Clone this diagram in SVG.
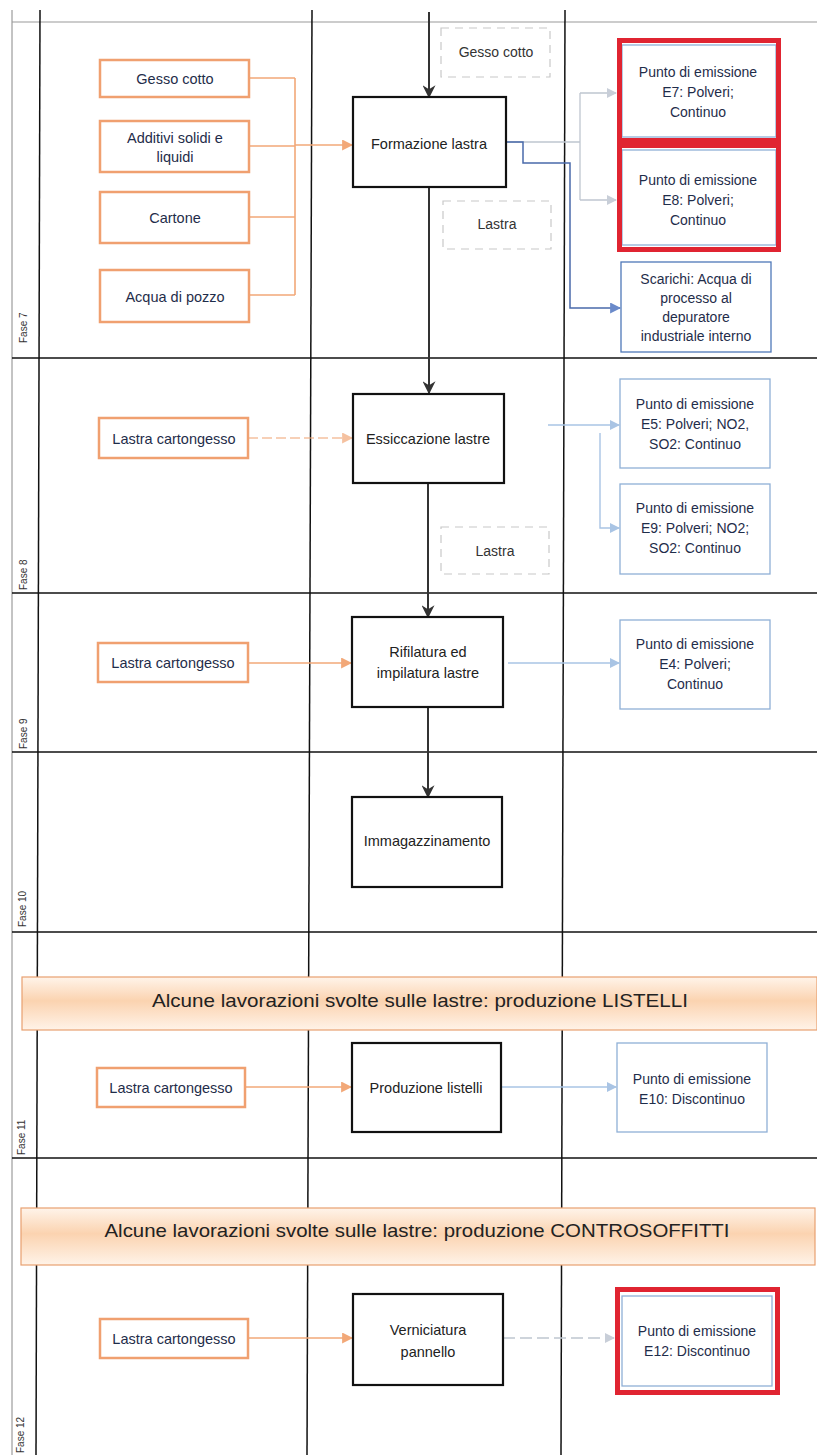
<svg xmlns="http://www.w3.org/2000/svg" width="817" height="1455" viewBox="0 0 817 1455">
<defs>
<style>
text{font-family:"Liberation Sans",Arial,sans-serif;}
.in rect{fill:#fff;stroke:#F0A070;stroke-width:2.5;}
.in text{font-size:14.5px;fill:#1F2D4A;text-anchor:middle;}
.pr rect{fill:#fff;stroke:#111;stroke-width:2.2;}
.pr text{font-size:14.5px;fill:#222;text-anchor:middle;}
.em rect.b{fill:#fff;stroke:#8FB0D6;stroke-width:1.3;}
.em rect.r{fill:none;stroke:#E02431;stroke-width:5;}
.em text{font-size:14px;fill:#1F2D4A;text-anchor:middle;}
.dash rect{fill:#fff;stroke:#C8C8C8;stroke-width:1.2;stroke-dasharray:8 6;}
.dash text{font-size:14px;fill:#333;text-anchor:middle;}
.lane{stroke:#111;stroke-width:1.5;fill:none;}
.fase{font-size:10px;fill:#333;}
.ban rect{fill:url(#bg);stroke:#E8A070;stroke-width:1.2;}
.ban text{font-size:19px;fill:#222;text-anchor:middle;}
.c-or{stroke:#F2A878;stroke-width:1.6;fill:none;}
.c-bl{stroke:#A9C4E4;stroke-width:1.4;fill:none;}
.c-bk{stroke:#333;stroke-width:2;fill:none;}
.c-db{stroke:#4A6AAA;stroke-width:1.5;fill:none;}
.c-gr{stroke:#BFC6D0;stroke-width:1.3;fill:none;}
</style>
<linearGradient id="bg" x1="0" y1="0" x2="0" y2="1">
<stop offset="0" stop-color="#FFF4EA"/>
<stop offset="0.45" stop-color="#FBD3B0"/>
<stop offset="1" stop-color="#FFF3E8"/>
</linearGradient>
<marker id="abk" viewBox="0 0 10 10" refX="9" refY="5" markerWidth="13" markerHeight="13" orient="auto" markerUnits="userSpaceOnUse"><path d="M0,0 L10,5 L0,10 L3,5 z" fill="#333"/></marker>
<marker id="ao" viewBox="0 0 10 10" refX="9" refY="5" markerWidth="11" markerHeight="11" orient="auto" markerUnits="userSpaceOnUse"><path d="M0,0 L10,5 L0,10 z" fill="#F2A878"/></marker>
<marker id="abl" viewBox="0 0 10 10" refX="9" refY="5" markerWidth="10" markerHeight="10" orient="auto" markerUnits="userSpaceOnUse"><path d="M0,0 L10,5 L0,10 z" fill="#A9C4E4"/></marker>
<marker id="adb" viewBox="0 0 10 10" refX="9" refY="5" markerWidth="11" markerHeight="11" orient="auto" markerUnits="userSpaceOnUse"><path d="M0,0 L10,5 L0,10 z" fill="#6A8ACA"/></marker>
<marker id="agr" viewBox="0 0 10 10" refX="9" refY="5" markerWidth="10" markerHeight="10" orient="auto" markerUnits="userSpaceOnUse"><path d="M0,0 L10,5 L0,10 z" fill="#C8CED8"/></marker>
</defs>
<rect width="817" height="1455" fill="#fff"/>

<g id="grid">
<line x1="12" y1="10" x2="12" y2="1455" stroke="#888" stroke-width="1"/>
<line x1="12" y1="22" x2="817" y2="22" stroke="#999" stroke-width="1"/>
<line class="lane" x1="40" y1="10" x2="36" y2="1455"/>
<line class="lane" x1="312" y1="10" x2="307" y2="1455"/>
<line class="lane" x1="565" y1="10" x2="561" y2="1455"/>
<line class="lane" x1="12" y1="358" x2="817" y2="358"/>
<line class="lane" x1="12" y1="593" x2="817" y2="593"/>
<line class="lane" x1="12" y1="752" x2="817" y2="752"/>
<line class="lane" x1="12" y1="932" x2="817" y2="932"/>
<line class="lane" x1="12" y1="1158" x2="817" y2="1158"/>
<text class="fase" transform="translate(27,343) rotate(-90)">Fase 7</text>
<text class="fase" transform="translate(27,590) rotate(-90)">Fase 8</text>
<text class="fase" transform="translate(27,749) rotate(-90)">Fase 9</text>
<text class="fase" transform="translate(26,927) rotate(-90)">Fase 10</text>
<text class="fase" transform="translate(25,1155) rotate(-90)">Fase 11</text>
<text class="fase" transform="translate(24,1453) rotate(-90)">Fase 12</text>
</g>

<g id="connectors">
<path class="c-or" d="M249,78 H295 M249,146 H295 M249,217 H295 M249,295 H295 M295,78 V295"/>
<path class="c-or" d="M295,145 H352" marker-end="url(#ao)"/>
<path class="c-bk" d="M429,12 V97" marker-end="url(#abk)"/>
<path class="c-bk" d="M429,187 V393" marker-end="url(#abk)"/>
<path class="c-bk" d="M428,483 V617" marker-end="url(#abk)"/>
<path class="c-bk" d="M428,707 V797" marker-end="url(#abk)"/>
<path class="c-gr" d="M506,142 H580 M580,93 V200 M580,93 H616" marker-end="url(#agr)"/>
<path class="c-gr" d="M580,200 H616" marker-end="url(#agr)"/>
<path class="c-db" d="M506,142 H523 V163 H570 V308 H620" marker-end="url(#adb)"/>
<path class="c-or" d="M248,438 H352" stroke-dasharray="10 4" opacity="0.7" marker-end="url(#ao)"/>
<path class="c-bl" d="M548,425 H619" marker-end="url(#abl)"/>
<path class="c-bl" d="M600,433 V528 H619" marker-end="url(#abl)"/>
<path class="c-or" d="M248,663 H351" marker-end="url(#ao)"/>
<path class="c-bl" d="M508,663 H619" marker-end="url(#abl)"/>
<path class="c-or" d="M245,1087 H351" marker-end="url(#ao)"/>
<path class="c-bl" d="M501,1087 H616" marker-end="url(#abl)"/>
<path class="c-or" d="M248,1338 H352" marker-end="url(#ao)"/>
<path class="c-gr" d="M503,1338 H614" stroke-dasharray="12 5" marker-end="url(#agr)"/>
</g>

<g id="banner-listelli" class="ban">
<rect x="22" y="977" width="795" height="53"/>
<text x="420" y="1007" textLength="536" lengthAdjust="spacingAndGlyphs">Alcune lavorazioni svolte sulle lastre: produzione LISTELLI</text>
</g>
<g id="banner-controsoffitti" class="ban">
<rect x="21" y="1208" width="794" height="57"/>
<text x="417" y="1237" textLength="625" lengthAdjust="spacingAndGlyphs">Alcune lavorazioni svolte sulle lastre: produzione CONTROSOFFITTI</text>
</g>

<g id="in-gesso" class="in"><rect x="100" y="60" width="149" height="37"/><text x="175" y="84">Gesso cotto</text></g>
<g id="in-additivi" class="in"><rect x="100" y="121" width="149" height="51"/><text x="175" y="143">Additivi solidi e</text><text x="175" y="162">liquidi</text></g>
<g id="in-cartone" class="in"><rect x="100" y="192" width="149" height="51"/><text x="175" y="223">Cartone</text></g>
<g id="in-acqua" class="in"><rect x="100" y="270" width="149" height="52"/><text x="175" y="302">Acqua di pozzo</text></g>
<g id="in-lastra8" class="in"><rect x="99" y="418" width="149" height="40"/><text x="174" y="444">Lastra cartongesso</text></g>
<g id="in-lastra9" class="in"><rect x="98" y="643" width="150" height="39"/><text x="173" y="668">Lastra cartongesso</text></g>
<g id="in-lastra11" class="in"><rect x="97" y="1068" width="148" height="39"/><text x="171" y="1093">Lastra cartongesso</text></g>
<g id="in-lastra12" class="in"><rect x="100" y="1319" width="148" height="39"/><text x="174" y="1344">Lastra cartongesso</text></g>

<g id="d-gesso" class="dash"><rect x="441" y="28" width="109" height="49"/><text x="496" y="57">Gesso cotto</text></g>
<g id="d-lastra1" class="dash"><rect x="443" y="201" width="108" height="48"/><text x="497" y="229">Lastra</text></g>
<g id="d-lastra2" class="dash"><rect x="441" y="527" width="108" height="47"/><text x="495" y="556">Lastra</text></g>

<g id="p-formazione" class="pr"><rect x="353" y="97" width="153" height="90"/><text x="429" y="149">Formazione lastra</text></g>
<g id="p-essiccazione" class="pr"><rect x="353" y="394" width="151" height="89"/><text x="428" y="444">Essiccazione lastre</text></g>
<g id="p-rifilatura" class="pr"><rect x="352" y="617" width="151" height="90"/><text x="428" y="657">Rifilatura ed</text><text x="428" y="678">impilatura lastre</text></g>
<g id="p-immagazzinamento" class="pr"><rect x="352" y="797" width="150" height="90"/><text x="427" y="846">Immagazzinamento</text></g>
<g id="p-listelli" class="pr"><rect x="352" y="1043" width="149" height="89"/><text x="426" y="1093">Produzione listelli</text></g>
<g id="p-verniciatura" class="pr"><rect x="353" y="1294" width="150" height="91"/><text x="428" y="1335">Verniciatura</text><text x="428" y="1357">pannello</text></g>

<g id="e7" class="em"><rect class="b" x="622" y="45" width="154" height="92"/><rect class="r" x="619.5" y="40.5" width="159" height="100"/><text x="698" y="77">Punto di emissione</text><text x="698" y="97">E7: Polveri;</text><text x="698" y="117">Continuo</text></g>
<g id="e8" class="em"><rect class="b" x="622" y="150" width="154" height="95"/><rect class="r" x="619.5" y="145.5" width="159" height="104"/><text x="698" y="185">Punto di emissione</text><text x="698" y="205">E8: Polveri;</text><text x="698" y="225">Continuo</text></g>
<g id="scarichi" class="em"><rect x="621" y="262" width="150" height="90" fill="#fff" stroke="#4F78B8" stroke-width="1.3"/><text x="696" y="284">Scarichi: Acqua di</text><text x="696" y="303">processo al</text><text x="696" y="322">depuratore</text><text x="696" y="341">industriale interno</text></g>
<g id="e5" class="em"><rect class="b" x="620" y="379" width="150" height="89"/><text x="695" y="409">Punto di emissione</text><text x="695" y="429">E5: Polveri; NO2,</text><text x="695" y="449">SO2: Continuo</text></g>
<g id="e9" class="em"><rect class="b" x="620" y="484" width="150" height="90"/><text x="695" y="513">Punto di emissione</text><text x="695" y="533">E9: Polveri; NO2;</text><text x="695" y="553">SO2: Continuo</text></g>
<g id="e4" class="em"><rect class="b" x="620" y="620" width="150" height="89"/><text x="695" y="649">Punto di emissione</text><text x="695" y="669">E4: Polveri;</text><text x="695" y="689">Continuo</text></g>
<g id="e10" class="em"><rect class="b" x="617" y="1043" width="150" height="89"/><text x="692" y="1084">Punto di emissione</text><text x="692" y="1104">E10: Discontinuo</text></g>
<g id="e12" class="em"><rect class="b" x="622" y="1296" width="150" height="90"/><rect class="r" x="617.5" y="1289.5" width="160" height="103"/><text x="697" y="1336">Punto di emissione</text><text x="697" y="1356">E12: Discontinuo</text></g>
</svg>
